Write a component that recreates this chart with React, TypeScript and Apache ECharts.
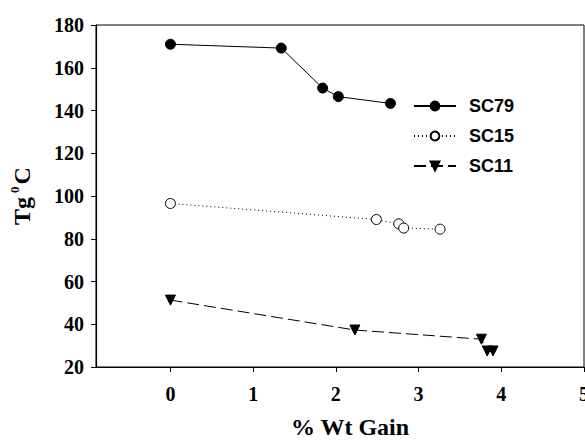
import React, { useEffect, useRef } from "react";
import * as echarts from "echarts";

const sc79X = [0, 1.34, 1.84, 2.03, 2.66];
const sc79Y = [171, 169.2, 150.5, 146.5, 143.3];
const sc15X = [0, 2.49, 2.76, 2.82, 3.26];
const sc15Y = [96.5, 89, 87, 85, 84.5];
const sc11X = [0, 2.23, 3.76, 3.83, 3.9];
const sc11Y = [51.3, 37.3, 33, 27.5, 27.5];
const xTicks = [0, 1, 2, 3, 4, 5];
const seriesNames = ["SC79", "SC15", "SC11"];

const zip = (xs: number[], ys: number[]) => xs.map((x, i) => [x, ys[i]]);

export default function App() {
  const ref = useRef<HTMLDivElement>(null);
  useEffect(() => {
    if (!ref.current) return;
    const chart = echarts.init(ref.current, undefined, { renderer: "svg" });
    const serif = "Liberation Serif";
    chart.setOption({
      animation: false,
      backgroundColor: "#ffffff",
      grid: {
        left: 96,
        top: 25,
        right: 1,
        bottom: 74,
        containLabel: false,
        outerBoundsMode: "none",
        show: true,
        borderColor: "#000",
        borderWidth: 1,
        backgroundColor: "transparent",
      },
      legend: {
        orient: "vertical",
        left: 408,
        top: 92,
        itemWidth: 42,
        itemHeight: 11,
        itemGap: 12,
        data: seriesNames,
        textStyle: {
          fontFamily: "Liberation Sans",
          fontWeight: "bold",
          fontSize: 18,
          color: "#000",
          padding: [0, 0, 0, 8],
        },
      },
      xAxis: {
        type: "value",
        min: -0.9,
        max: 5,
        name: "% Wt Gain",
        nameLocation: "middle",
        nameGap: 48,
        nameTextStyle: {
          fontFamily: serif,
          fontWeight: "bold",
          fontSize: 24,
          color: "#000",
          padding: [0, 0, 0, 20],
        },
        splitLine: { show: false },
        axisLine: { onZero: false, lineStyle: { color: "#000", width: 1.2 } },
        axisTick: {
          show: true,
          length: 5,
          inside: false,
          customValues: xTicks,
          lineStyle: { color: "#000" },
        },
        axisLabel: {
          customValues: xTicks,
          margin: 17,
          fontFamily: serif,
          fontWeight: "bold",
          fontSize: 20,
          color: "#000",
        },
      },
      yAxis: {
        type: "value",
        min: 20,
        max: 180,
        interval: 20,
        name: "{a|Tg}{b|0}{a|C}",
        nameLocation: "middle",
        nameGap: 62,
        nameRotate: 90,
        nameTextStyle: {
          rich: {
            a: {
              fontFamily: serif,
              fontWeight: "bold",
              fontSize: 24,
              color: "#000",
              lineHeight: 26,
              verticalAlign: "bottom",
            },
            b: {
              fontFamily: serif,
              fontWeight: "bold",
              fontSize: 13,
              color: "#000",
              lineHeight: 26,
              verticalAlign: "top",
              padding: [0, 2, 0, 4],
            },
          },
        },
        splitLine: { show: false },
        axisLine: { onZero: false, lineStyle: { color: "#000", width: 1.2 } },
        axisTick: { show: true, length: 5, inside: false, lineStyle: { color: "#000" } },
        axisLabel: {
          margin: 12,
          fontFamily: serif,
          fontWeight: "bold",
          fontSize: 20,
          color: "#000",
        },
      },
      series: [
        {
          name: "SC79",
          type: "line",
          data: zip(sc79X, sc79Y),
          symbol: "circle",
          symbolSize: 10,
          showAllSymbol: true,
          lineStyle: { color: "#000", width: 1, type: "solid" },
          itemStyle: { color: "#000", borderColor: "#000", borderWidth: 1 },
        },
        {
          name: "SC15",
          type: "line",
          data: zip(sc15X, sc15Y),
          symbol: "circle",
          symbolSize: 10,
          lineStyle: { color: "#000", width: 1, type: [1, 3] },
          itemStyle: { color: "#fff", borderColor: "#000", borderWidth: 1 },
        },
        {
          name: "SC11",
          type: "line",
          data: zip(sc11X, sc11Y),
          symbol: "triangle",
          symbolRotate: 180,
          symbolSize: 10,
          lineStyle: { color: "#000", width: 1, type: [12, 5] },
          itemStyle: { color: "#000", borderColor: "#000", borderWidth: 1 },
        },
      ],
    });
    return () => chart.dispose();
  }, []);
  return <div ref={ref} style={{ width: 585, height: 441, position: "absolute", left: 0, top: 0 }} />;
}
